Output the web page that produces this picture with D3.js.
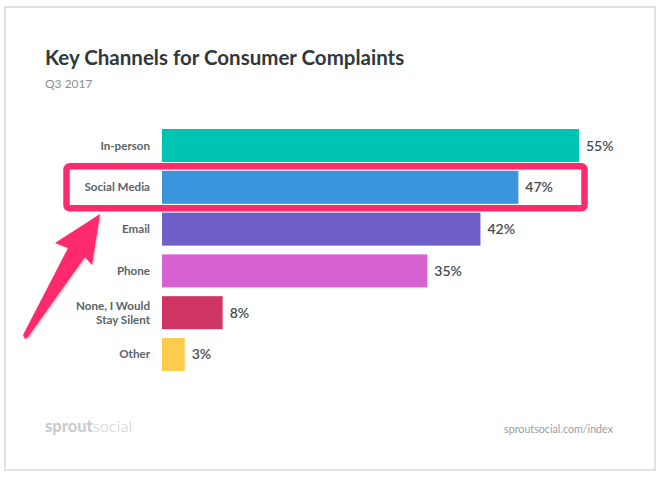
<!DOCTYPE html>
<html><head><meta charset="utf-8">
<script src="https://cdn.jsdelivr.net/npm/d3@7"></script>
<style>html,body{margin:0;padding:0;background:#fff;}svg{display:block;font-family:Lato,"Open Sans",sans-serif;}</style>
</head><body>
<script>
const categories = ["In-person","Social Media","Email","Phone","None, I Would\nStay Silent","Other"];
const values = [55,47,42,35,8,3];
const colors = ["#00c4b3","#3b95dc","#6f5fc9","#d962d3","#cf3562","#fdcb4d"];
const title = "Key Channels for Consumer Complaints";
const subtitle = "Q3 2017";
const highlight = "Social Media";

const W = 661, H = 478;
const svg = d3.select("body").append("svg").attr("width", W).attr("height", H);

svg.append("rect").attr("x",5).attr("y",7).attr("width",650).attr("height",463)
  .attr("fill","#fff").attr("stroke","#dfe3e3").attr("stroke-width",2);

svg.append("text").attr("x",45).attr("y",65).text(title)
  .attr("font-size",20.5).attr("font-weight",700).attr("fill","#30383b");
svg.append("text").attr("x",45).attr("y",88).text(subtitle)
  .attr("font-size",12).attr("fill","#8a8f91");

const x = d3.scaleLinear().domain([0,55]).range([162,579]);
const y = d3.scaleBand().domain(categories).range([129,371]).paddingInner(0.21).paddingOuter(0);

const g = svg.append("g");
g.selectAll("rect.bar").data(categories).join("rect").attr("class","bar")
  .attr("x", x(0)).attr("y", d => y(d))
  .attr("width", (d,i) => x(values[i]) - x(0)).attr("height", y.bandwidth())
  .attr("fill", (d,i) => colors[i]);

// category labels
categories.forEach((c,i) => {
  const lines = c.split("\n");
  const cy = y(c) + y.bandwidth()/2;
  const t = g.append("text").attr("text-anchor","end").attr("font-size",11.6)
    .attr("font-weight",700).attr("fill","#5b6367");
  lines.forEach((l,j) => {
    t.append("tspan").attr("x",150)
      .attr("y", cy + 4 + (j - (lines.length-1)/2)*14).text(l);
  });
});

// value labels
g.selectAll("text.val").data(categories).join("text").attr("class","val")
  .attr("x", (d,i) => x(values[i]) + 7).attr("y", d => y(d) + y.bandwidth()/2 + 5)
  .attr("font-size",14).attr("font-weight",600).attr("fill","#454c50")
  .text((d,i) => values[i] + "%");

// highlight box
const hy = y(highlight);
svg.append("rect").attr("x",66.5).attr("y",hy - 4.5).attr("width",518)
  .attr("height",y.bandwidth() + 9).attr("rx",3)
  .attr("fill","none").attr("stroke","#ff2a6b").attr("stroke-width",6.5);

// arrow
svg.append("path")
  .attr("d","M100,214 L55,243 L68,248 L23,335 L25,339 L28,337 L85,257 L92,265 Z")
  .attr("fill","#ff2a6b")
  .style("filter","drop-shadow(1px 1px 1px rgba(0,0,0,0.25))");

// footer
const logo = svg.append("text").attr("x",45).attr("y",432).attr("font-size",16.5).attr("fill","#c9cdcf");
logo.append("tspan").attr("font-weight",900).text("sprout");
logo.append("tspan").attr("font-weight",300).text("social");
svg.append("text").attr("x",613).attr("y",433).attr("text-anchor","end")
  .attr("font-size",10.7).attr("fill","#9a9ea0").text("sproutsocial.com/index");
</script>
</body></html>
